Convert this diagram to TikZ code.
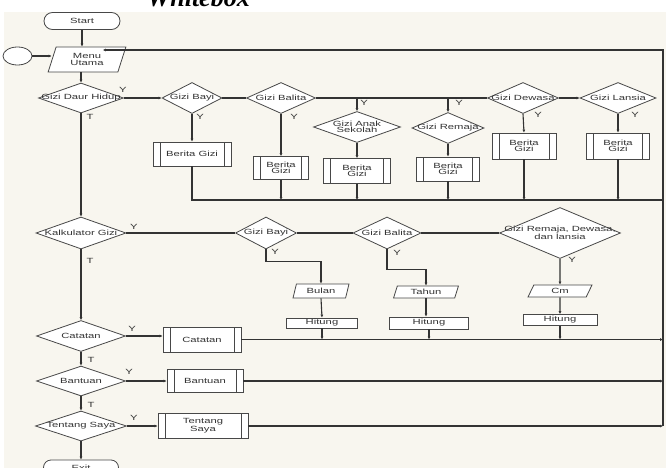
\documentclass[tikz,border=0pt]{standalone}
\usepackage{fontspec}
\setmainfont{Liberation Sans}
\newfontfamily\lbl[FakeStretch=1.5]{Liberation Sans}
\newfontfamily\ttl{Liberation Serif}
\usetikzlibrary{shapes.geometric,shapes.misc,arrows.meta,calc}

\definecolor{paper}{HTML}{F8F6EF}
\definecolor{ink}{HTML}{333333}
\definecolor{edge}{HTML}{484848}

\begin{document}
\begin{tikzpicture}[x=1pt,y=-1pt,
  txt/.style={font=\lbl\fontsize{7.5}{6.5}\selectfont, text=ink, align=center},
  shp/.style={draw=edge, line width=0.8pt, fill=white, inner sep=0pt, txt},
  choice/.style 2 args={shp, diamond, minimum width=#1, minimum height=#2},
  term/.style 2 args={shp, rounded rectangle, minimum width=#1, minimum height=#2},
  io/.style 2 args={shp, trapezium, trapezium left angle=70, trapezium right angle=110,
    trapezium stretches=true, minimum width=#1, minimum height=#2},
  calcbox/.style 2 args={shp, rectangle, minimum width=#1, minimum height=#2},
  proc/.style 2 args={shp, rectangle, minimum width=#1, minimum height=#2,
    path picture={\draw[edge, line width=0.8pt]
      ([xshift=7pt]path picture bounding box.north west) -- ([xshift=7pt]path picture bounding box.south west)
      ([xshift=-7pt]path picture bounding box.north east) -- ([xshift=-7pt]path picture bounding box.south east);}},
  yt/.style={txt, inner sep=0pt},
  conn/.style={draw=ink, line width=1.1pt},
  arr/.style={conn, -{Latex[length=3pt,width=3pt]}}
]
\clip (0,0) rectangle (666,468);
\fill[paper] (4,12) rectangle (666,468);

% heading, partly above the page edge
\node[font=\ttl\bfseries\itshape\fontsize{26}{26}\selectfont, anchor=base west, inner sep=0pt] (title) at (147,6.5) {Whitebox};

% main column
\node[term={76}{17}] (start) at (82,21) {Start};
\node[draw=edge, line width=0.8pt, fill=white, ellipse, minimum width=29, minimum height=18, inner sep=0pt] (circ) at (17.5,56) {};
\node[io={78}{25}] (menu) at (87,59.5) {Menu\\Utama};
\node[choice={85}{30}, label={[txt]center:Gizi Daur Hidup}] (dh) at (81,98) {};
\node[choice={90}{32}, label={[txt]center:Kalkulator Gizi}] (kg) at (81,233) {};
\node[choice={89}{31}, label={[txt]center:Catatan}] (cd) at (81,336) {};
\node[choice={89}{30}, label={[txt]center:Bantuan}] (bd) at (81,381) {};
\node[choice={91}{30}, label={[txt]center:Tentang Saya}] (td) at (81,426) {};
\node[term={75}{15}] (exit) at (81,467.5) {Exit};

% life-cycle nutrition branch
\node[choice={60}{31}, label={[txt]center:Gizi Bayi}] (b1) at (192,98) {};
\node[choice={69}{31}, label={[txt]center:Gizi Balita}] (b2) at (281,98) {};
\node[choice={87}{31}, label={[txt,align=center]center:Gizi Anak\\Sekolah}] (b3) at (357,127) {};
\node[choice={72}{31}, label={[txt]center:Gizi Remaja}] (b4) at (448,128) {};
\node[choice={71}{31}, label={[txt]center:Gizi Dewasa}] (b5) at (523,98) {};
\node[choice={76}{31}, label={[txt]center:Gizi Lansia}] (b6) at (618,98) {};

\node[proc={78}{24}] (p1) at (192,154) {Berita Gizi};
\node[proc={55}{23}] (p2) at (281,168) {Berita\\Gizi};
\node[proc={67}{25}] (p3) at (357,171) {Berita\\Gizi};
\node[proc={63}{24}] (p4) at (448,169) {Berita\\Gizi};
\node[proc={64}{26}] (p5) at (524,146) {Berita\\Gizi};
\node[proc={63}{26}] (p6) at (618,146) {Berita\\Gizi};

% calculator branch
\node[choice={61}{32}, label={[txt]center:Gizi Bayi}] (k1) at (266,233) {};
\node[choice={68}{32}, label={[txt]center:Gizi Balita}] (k2) at (387,233) {};
\node[choice={121}{51}, label={[txt,align=center]center:Gizi Remaja, Dewasa,\\dan lansia}] (k3) at (560,233) {};
\node[io={56}{14}] (bulan) at (321,291) {Bulan};
\node[io={65}{12}] (tahun) at (426,292) {Tahun};
\node[io={64}{12}] (cm) at (560,291) {Cm};
\node[calcbox={71}{10}] (h1) at (322,323) {Hitung};
\node[calcbox={79}{12}] (h2) at (429,323) {Hitung};
\node[calcbox={74}{11}] (h3) at (560,320) {Hitung};

% other menu items
\node[proc={78}{25}] (cp) at (202,339.5) {Catatan};
\node[proc={76}{23}] (bp) at (205,381) {Bantuan};
\node[proc={90}{25}] (tp) at (203,426) {Tentang\\Saya};

% return line
\coordinate (rtop) at (663,50);
\coordinate (col) at (663,200);

% connectors: main column
\draw[arr] (start.south) -- (start.south |- menu.north);
\draw[arr] (circ.east) -- (circ.east -| menu.west);
\draw[arr] (dh.north |- menu.south) -- (dh.north);
\draw[arr] (dh.south) -- (kg.north);
\draw[arr] (kg.south) -- (cd.north);
\draw[arr] (cd.south) -- (bd.north);
\draw[arr] (bd.south) -- (td.north);
\draw[arr] (td.south) -- (exit.north);

% connectors: life-cycle branch
\draw[arr] (dh.east) -- (b1.west);
\draw[conn] (b1.east) -- (b2.west);
\draw[conn] (b2.east) -- (b5.west);
\draw[arr] (b5.east) -- (b6.west);
\draw[arr] (b3.north |- dh.east) -- (b3.north);
\draw[arr] (b4.north |- dh.east) -- (b4.north);
\draw[arr] (b1.south) -- (p1.north);
\draw[arr] (b2.south) -- (p2.north);
\draw[arr] (b3.south) -- (p3.north);
\draw[arr] (b4.south) -- (p4.north);
\draw[arr] (b5.south) -- (p5.north);
\draw[arr] (b6.south) -- (p6.north);
\draw[conn] (p1.south) -- (p1.south |- col) -- (col);
\draw[arr] (p2.south) -- (p2.south |- col);
\draw[arr] (p3.south) -- (p3.south |- col);
\draw[arr] (p4.south) -- (p4.south |- col);
\draw[arr] (p5.south) -- (p5.south |- col);
\draw[arr] (p6.south) -- (p6.south |- col);

% connectors: calculator branch
\draw[conn] (kg.east) -- (k1.west);
\draw[conn] (k1.east) -- (k2.west);
\draw[conn] (k2.east) -- (k3.west);
\draw[arr] (k1.south) -- ++(0,12) -| (bulan.north);
\draw[arr] (k2.south) -- ++(0,20) -| (tahun.north);
\draw[arr] (k3.south) -- (cm.north);
\draw[arr] (bulan.south) -- (h1.north);
\draw[arr] (tahun.south) -- (tahun.south |- h2.north);
\draw[arr] (cm.south) -- (h3.north);
\draw[arr] (h1.south) -- (h1.south |- cp.east);
\draw[arr] (h2.south) -- (h2.south |- cp.east);
\draw[arr] (h3.south) -- (h3.south |- cp.east);

% connectors: other items and return line
\draw[arr] (cd.east) -- (cd.east -| cp.west);
\draw[arr] (bd.east) -- (bp.west);
\draw[arr] (td.east) -- (tp.west);
\draw[arr] (cp.east) -- (cp.east -| rtop);
\draw[arr] (bp.east) -- (bp.east -| rtop);
\draw[arr] (tp.east) -- (tp.east -| rtop);
\draw[arr] (tp.east -| rtop) -- (rtop) -- ($(rtop -| menu.north east)+(3,0)$);

% answer marks
\node[yt] (y1) at (123,90) {Y};
\node[yt] (t1) at (90,117) {T};
\node[yt] (y2) at (200,117) {Y};
\node[yt] (y3) at (294,117) {Y};
\node[yt] (y4) at (364,103) {Y};
\node[yt] (y5) at (459,103) {Y};
\node[yt] (y6) at (538,115) {Y};
\node[yt] (y7) at (635,115) {Y};
\node[yt] (y8) at (134,227) {Y};
\node[yt] (t2) at (90,261) {T};
\node[yt] (y9) at (275,252) {Y};
\node[yt] (y10) at (397,253) {Y};
\node[yt] (y11) at (572,260) {Y};
\node[yt] (y12) at (132,329) {Y};
\node[yt] (t3) at (91,360) {T};
\node[yt] (y13) at (129,372) {Y};
\node[yt] (t4) at (91,405) {T};
\node[yt] (y14) at (134,418) {Y};
\end{tikzpicture}
\end{document}
